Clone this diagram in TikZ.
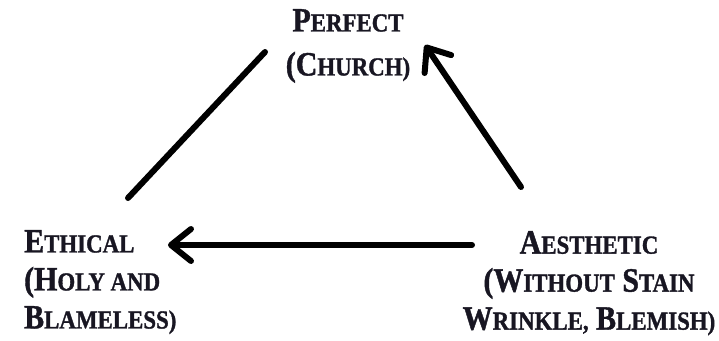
\documentclass[tikz,border=0pt]{standalone}
\usepackage{fontspec}
\setmainfont{Liberation Serif}[BoldFeatures={FakeBold=1.2, FakeStretch=0.88}]
\usetikzlibrary{arrows.meta, positioning, calc}
\definecolor{inkdark}{RGB}{24,22,34}

% first letter large, rest as small capitals
\newcommand{\capword}[2]{{\fontsize{34}{34}\selectfont #1}{\fontsize{26}{26}\selectfont #2}}

\begin{document}
\begin{tikzpicture}[x=1pt, y=-1pt, every node/.style={inner sep=0pt},
  lbl/.style={font=\bfseries\fontsize{34}{38}\selectfont, text=inkdark},
  arrow/.style={line width=6pt, line cap=round, -{Straight Barb[length=20pt, width=32pt, round]}},
  link/.style={line width=6pt, line cap=round}]
\useasboundingbox (0,0) rectangle (719,340);
\node[lbl, align=center, anchor=north] (perf) at (348,9)
  {\capword{P}{ERFECT}\\[6pt]\capword{(C}{HURCH)}};
\node[lbl, align=left, anchor=north west] (eth) at (24,230)
  {\capword{E}{THICAL}\\\capword{(H}{OLY AND}\\\capword{B}{LAMELESS)}};
\node[lbl, align=center, anchor=north] (aes) at (589,231)
  {\capword{A}{ESTHETIC}\\\capword{(W}{ITHOUT} \capword{S}{TAIN}\\\capword{W}{RINKLE,} \capword{B}{LEMISH)}};
\draw[link] ($(eth.north west)+(104,-32)$) -- ($(perf.north)+(-83,43)$);
\draw[arrow] ($(aes.north)+(-68,-44)$) -- ($(perf.north)+(77,36)$);
\draw[arrow] ($(aes.north)+(-117,14)$) -- ($(eth.north west)+(144,15)$);
\end{tikzpicture}
\end{document}
